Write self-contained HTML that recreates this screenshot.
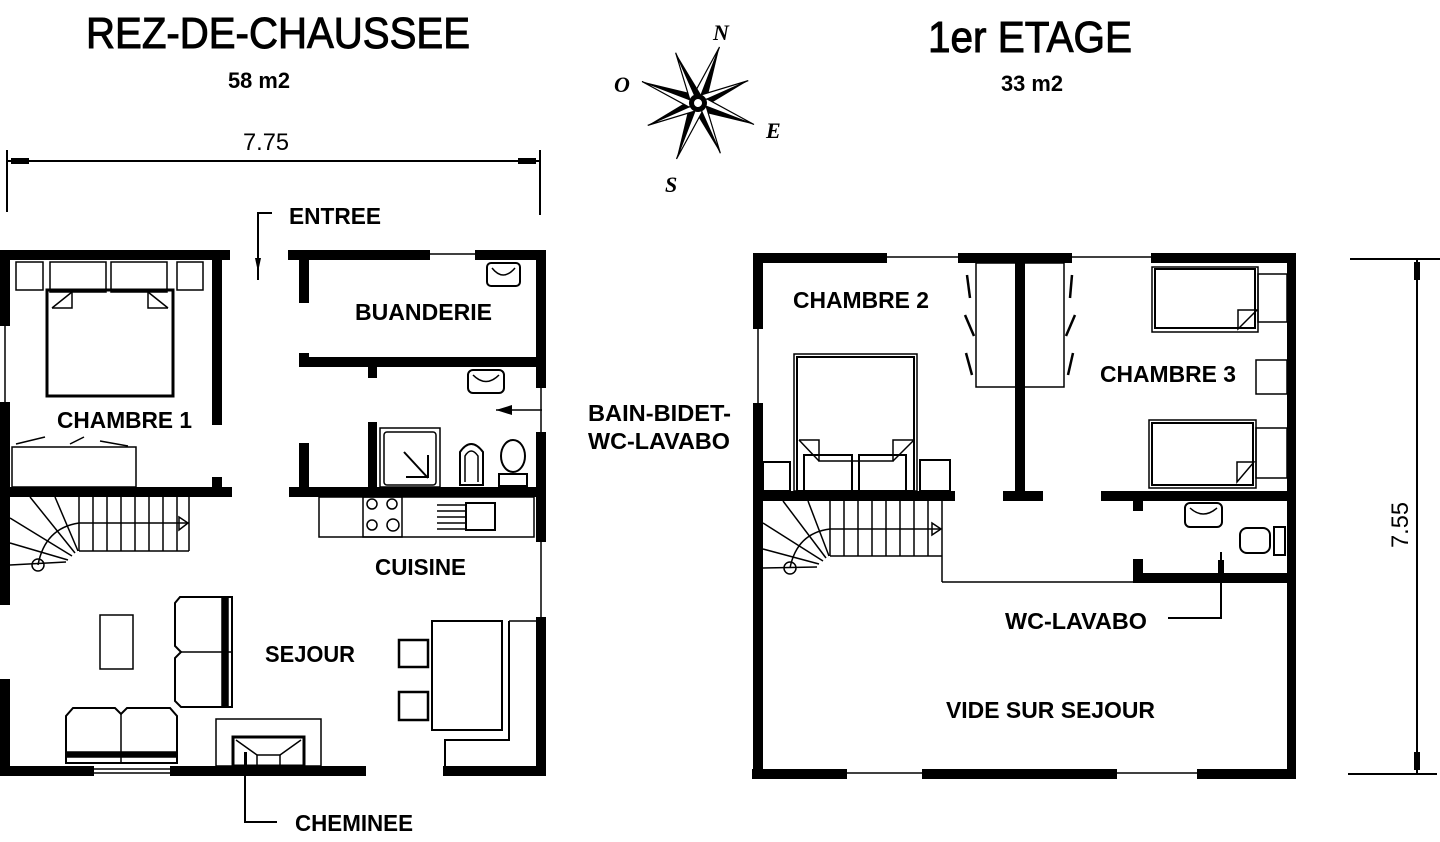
<!DOCTYPE html>
<html><head><meta charset="utf-8"><style>
html,body{margin:0;padding:0;background:#fff;}
svg{display:block;}
.t{font-family:"Liberation Sans Narrow","Liberation Sans",sans-serif;font-weight:bold;fill:#000;}
.n{font-family:"Liberation Sans Narrow","Liberation Sans",sans-serif;fill:#000;}
.h{stroke:#000;stroke-width:1;}
</style></head><body>
<svg width="1440" height="842" viewBox="0 0 1440 842" xmlns="http://www.w3.org/2000/svg">
<rect width="1440" height="842" fill="#fff"/>
<!-- Titles -->
<text class="n h" x="86" y="48" font-size="44" textLength="384" lengthAdjust="spacingAndGlyphs">REZ-DE-CHAUSSEE</text>
<text class="t" x="228" y="88" font-size="22" textLength="62" lengthAdjust="spacingAndGlyphs">58 m2</text>
<text class="n h" x="928" y="52" font-size="44" textLength="204" lengthAdjust="spacingAndGlyphs">1er ETAGE</text>
<text class="t" x="1001" y="91" font-size="22" textLength="62" lengthAdjust="spacingAndGlyphs">33 m2</text>

<!-- dimension 7.75 -->
<g stroke="#000" fill="none">
<line x1="7" y1="150" x2="7" y2="212" stroke-width="2"/>
<line x1="540" y1="150" x2="540" y2="215" stroke-width="2"/>
<line x1="7" y1="161" x2="540" y2="161" stroke-width="2"/>
</g>
<rect x="11" y="158" width="18" height="6" fill="#000"/>
<rect x="518" y="158" width="18" height="6" fill="#000"/>
<text class="n" x="243" y="150" font-size="24" textLength="46" lengthAdjust="spacingAndGlyphs">7.75</text>

<!-- dimension 7.55 -->
<g stroke="#000" fill="none" stroke-width="2">
<line x1="1350" y1="259" x2="1440" y2="259"/>
<line x1="1348" y1="774" x2="1437" y2="774"/>
<line x1="1417" y1="259" x2="1417" y2="774"/>
</g>
<rect x="1414" y="262" width="6" height="18" fill="#000"/>
<rect x="1414" y="752" width="6" height="18" fill="#000"/>
<text class="n" x="0" y="0" font-size="24" transform="translate(1408,548) rotate(-90)" textLength="46" lengthAdjust="spacingAndGlyphs">7.55</text>

<!-- compass -->
<g transform="translate(698,103) rotate(21)">
<g><polygon points="0,-60 7,-7 0,0" fill="#000"/><polygon points="0,-60 -7,-7 0,0" fill="#fff" stroke="#000" stroke-width="1.2"/></g>
<g transform="rotate(45)"><polygon points="0,-55 6,-7 0,0" fill="#000"/><polygon points="0,-55 -6,-7 0,0" fill="#fff" stroke="#000" stroke-width="1.2"/></g>
<g transform="rotate(90)"><polygon points="0,-60 7,-7 0,0" fill="#000"/><polygon points="0,-60 -7,-7 0,0" fill="#fff" stroke="#000" stroke-width="1.2"/></g>
<g transform="rotate(135)"><polygon points="0,-55 6,-7 0,0" fill="#000"/><polygon points="0,-55 -6,-7 0,0" fill="#fff" stroke="#000" stroke-width="1.2"/></g>
<g transform="rotate(180)"><polygon points="0,-60 7,-7 0,0" fill="#000"/><polygon points="0,-60 -7,-7 0,0" fill="#fff" stroke="#000" stroke-width="1.2"/></g>
<g transform="rotate(225)"><polygon points="0,-55 6,-7 0,0" fill="#000"/><polygon points="0,-55 -6,-7 0,0" fill="#fff" stroke="#000" stroke-width="1.2"/></g>
<g transform="rotate(270)"><polygon points="0,-60 7,-7 0,0" fill="#000"/><polygon points="0,-60 -7,-7 0,0" fill="#fff" stroke="#000" stroke-width="1.2"/></g>
<g transform="rotate(315)"><polygon points="0,-55 6,-7 0,0" fill="#000"/><polygon points="0,-55 -6,-7 0,0" fill="#fff" stroke="#000" stroke-width="1.2"/></g>
<circle r="9" fill="#000"/><circle r="4" fill="#fff"/>
</g>
<g font-family="Liberation Serif,serif" font-style="italic" font-weight="bold" font-size="22" fill="#000">
<text x="713" y="40">N</text>
<text x="614" y="92">O</text>
<text x="766" y="138">E</text>
<text x="665" y="192">S</text>
</g>

<!-- ================= GROUND FLOOR ================= -->
<g fill="#000">
<rect x="0" y="250" width="230" height="10"/>
<rect x="288" y="250" width="142" height="10"/>
<rect x="475" y="250" width="71" height="10"/>
<rect x="536" y="250" width="10" height="138"/>
<rect x="536" y="432" width="10" height="110"/>
<rect x="536" y="617" width="10" height="159"/>
<rect x="0" y="250" width="10" height="76"/>
<rect x="0" y="402" width="10" height="203"/>
<rect x="0" y="679" width="10" height="97"/>
<rect x="0" y="766" width="94" height="10"/>
<rect x="170" y="766" width="196" height="10"/>
<rect x="443" y="766" width="103" height="10"/>
<rect x="212" y="260" width="10" height="165"/>
<rect x="212" y="477" width="10" height="12"/>
<rect x="10" y="487" width="222" height="10"/>
<rect x="299" y="260" width="10" height="43"/>
<rect x="299" y="353" width="10" height="14"/>
<rect x="299" y="357" width="237" height="10"/>
<rect x="368" y="367" width="9" height="11"/>
<rect x="368" y="422" width="9" height="65"/>
<rect x="299" y="443" width="10" height="44"/>
<rect x="289" y="487" width="257" height="10"/>
</g>
<g stroke="#000" fill="none" stroke-width="1.5">
<line x1="430" y1="254" x2="475" y2="254"/>
<line x1="5" y1="326" x2="5" y2="402"/>
<line x1="541" y1="388" x2="541" y2="432"/>
<line x1="541" y1="542" x2="541" y2="617"/>
<line x1="94" y1="769" x2="170" y2="769"/>
<line x1="94" y1="773" x2="170" y2="773"/>
<rect x="16" y="262" width="27" height="28"/>
<rect x="177" y="262" width="26" height="28"/>
<rect x="50" y="262" width="56" height="30"/>
<rect x="111" y="262" width="56" height="30"/>
<rect x="47" y="290" width="126" height="106" stroke-width="3"/>
<polyline points="52,308 72,308 72,292"/>
<polyline points="168,308 148,308 148,292"/>
<line x1="52" y1="308" x2="72" y2="292"/>
<line x1="168" y1="308" x2="148" y2="292"/>
<rect x="12" y="447" width="124" height="40"/>
<line x1="16" y1="444" x2="45" y2="437"/>
<line x1="70" y1="444" x2="84" y2="437"/>
<line x1="100" y1="441" x2="128" y2="446"/>
<rect x="487" y="263" width="33" height="23" rx="4" stroke-width="2"/>
<path d="M492,268 Q503,282 515,268"/>
<rect x="468" y="370" width="36" height="23" rx="5" stroke-width="2"/>
<path d="M473,375 Q486,388 499,375"/>
<rect x="380" y="428" width="60" height="59"/>
<rect x="384" y="432" width="52" height="53" rx="3"/>
<line x1="404" y1="452" x2="428" y2="478" stroke-width="2"/>
<polyline points="406,477 428,477 428,455" stroke-width="2"/>
<path d="M460,485 L460,452 Q471,436 483,452 L483,485 Z" stroke-width="2"/>
<path d="M465,482 L465,456 Q471,446 478,456 L478,482"/>
<ellipse cx="513" cy="456" rx="12" ry="16" stroke-width="2"/>
<rect x="499" y="474" width="28" height="12" stroke-width="2"/>
<line x1="496" y1="410" x2="542" y2="410"/>
<line x1="79" y1="523" x2="189" y2="523"/>
<line x1="79" y1="551" x2="189" y2="551"/>
<line x1="79" y1="497" x2="79" y2="551"/>
<line x1="93" y1="497" x2="93" y2="551"/>
<line x1="107" y1="497" x2="107" y2="551"/>
<line x1="121" y1="497" x2="121" y2="551"/>
<line x1="135" y1="497" x2="135" y2="551"/>
<line x1="149" y1="497" x2="149" y2="551"/>
<line x1="163" y1="497" x2="163" y2="551"/>
<line x1="177" y1="497" x2="177" y2="551"/>
<line x1="189" y1="497" x2="189" y2="551"/>
<line x1="78" y1="551" x2="55" y2="497"/>
<line x1="75" y1="553" x2="30" y2="497"/>
<line x1="72" y1="556" x2="10" y2="518"/>
<line x1="68" y1="560" x2="10" y2="543"/>
<line x1="10" y1="565" x2="66" y2="562"/>
<path d="M38,565 Q45,528 79,523"/>
<circle cx="38" cy="565" r="6"/>
<polygon points="179,517 188,523 179,530"/>
<rect x="319" y="497" width="215" height="40"/>
<rect x="363" y="497" width="39" height="40"/>
<circle cx="372" cy="504" r="5"/><circle cx="392" cy="504" r="5"/>
<circle cx="372" cy="525" r="5"/><circle cx="393" cy="525" r="6"/>
<line x1="437" y1="505" x2="465" y2="505"/>
<line x1="437" y1="511" x2="465" y2="511"/>
<line x1="437" y1="517" x2="465" y2="517"/>
<line x1="437" y1="523" x2="465" y2="523"/>
<line x1="437" y1="529" x2="465" y2="529"/>
<rect x="466" y="503" width="29" height="27" stroke-width="2"/>
<rect x="100" y="615" width="33" height="54"/>
<path d="M232,597 L180,597 L175,603 L175,646 L181,652 L175,658 L175,701 L181,707 L232,707 Z" stroke-width="2"/>
<line x1="181" y1="652" x2="232" y2="652"/>
<rect x="222" y="597" width="6" height="110" fill="#000"/>
<path d="M66,763 L66,716 L73,708 L115,708 L121,714 L127,708 L170,708 L177,716 L177,763 Z" stroke-width="2"/>
<line x1="121" y1="714" x2="121" y2="763"/>
<rect x="66" y="752" width="111" height="5" fill="#000"/>
<rect x="216" y="719" width="105" height="47"/>
<rect x="233" y="737" width="71" height="29" stroke-width="3"/>
<rect x="257" y="755" width="23" height="11"/>
<line x1="236" y1="740" x2="257" y2="755"/><line x1="301" y1="740" x2="280" y2="755"/>
<rect x="432" y="621" width="70" height="109" stroke-width="2"/>
<rect x="399" y="640" width="29" height="27" stroke-width="2.5"/>
<rect x="399" y="692" width="29" height="28" stroke-width="2.5"/>
<polyline points="509,621 536,621"/>
<polyline points="509,621 509,740 445,740 445,766" stroke-width="2"/>
<polyline points="245,760 245,822 277,822" stroke-width="2"/>
<polyline points="272,213 258,213 258,280" stroke-width="2"/>
</g>
<polygon points="255,258 261,258 258,272" fill="#000"/>
<polygon points="496,410 512,405 512,415" fill="#000"/>
<rect x="244" y="752" width="3" height="14" fill="#000"/>

<g class="t" font-size="23">
<text x="289" y="224" textLength="92" lengthAdjust="spacingAndGlyphs">ENTREE</text>
<text x="355" y="320" textLength="137" lengthAdjust="spacingAndGlyphs">BUANDERIE</text>
<text x="57" y="428" textLength="135" lengthAdjust="spacingAndGlyphs">CHAMBRE 1</text>
<text x="588" y="421" textLength="143" lengthAdjust="spacingAndGlyphs">BAIN-BIDET-</text>
<text x="588" y="449" textLength="142" lengthAdjust="spacingAndGlyphs">WC-LAVABO</text>
<text x="375" y="575" textLength="91" lengthAdjust="spacingAndGlyphs">CUISINE</text>
<text x="265" y="662" textLength="90" lengthAdjust="spacingAndGlyphs">SEJOUR</text>
<text x="295" y="831" textLength="118" lengthAdjust="spacingAndGlyphs">CHEMINEE</text>
</g>

<!-- ================= FIRST FLOOR ================= -->
<g fill="#000">
<rect x="753" y="253" width="134" height="10"/>
<rect x="958" y="253" width="114" height="10"/>
<rect x="1151" y="253" width="145" height="10"/>
<rect x="1287" y="253" width="9" height="526"/>
<rect x="753" y="253" width="10" height="76"/>
<rect x="753" y="403" width="10" height="376"/>
<rect x="752" y="769" width="95" height="10"/>
<rect x="922" y="769" width="195" height="10"/>
<rect x="1197" y="769" width="99" height="10"/>
<rect x="1015" y="263" width="10" height="228"/>
<rect x="1003" y="491" width="40" height="10"/>
<rect x="763" y="491" width="192" height="10"/>
<rect x="1101" y="491" width="195" height="10"/>
<rect x="1133" y="501" width="10" height="10"/>
<rect x="1133" y="559" width="10" height="24"/>
<rect x="1133" y="573" width="163" height="10"/>
</g>
<g stroke="#000" fill="none" stroke-width="1.5">
<line x1="887" y1="257" x2="958" y2="257"/>
<line x1="1072" y1="257" x2="1151" y2="257"/>
<line x1="758" y1="329" x2="758" y2="403"/>
<line x1="847" y1="773" x2="922" y2="773"/>
<line x1="1117" y1="773" x2="1197" y2="773"/>
<rect x="976" y="263" width="88" height="124"/>
<line x1="967" y1="275" x2="970" y2="298" stroke-width="2.5"/>
<line x1="965" y1="315" x2="974" y2="336" stroke-width="2.5"/>
<line x1="966" y1="353" x2="972" y2="375" stroke-width="2.5"/>
<line x1="1072" y1="275" x2="1070" y2="298" stroke-width="2.5"/>
<line x1="1075" y1="315" x2="1066" y2="336" stroke-width="2.5"/>
<line x1="1073" y1="353" x2="1068" y2="375" stroke-width="2.5"/>
<rect x="1152" y="267" width="106" height="65"/>
<rect x="1155" y="269" width="100" height="59" stroke-width="2"/>
<path d="M1238,329 L1238,310 L1257,310 Z"/>
<rect x="1258" y="274" width="29" height="48"/>
<rect x="1256" y="360" width="31" height="34"/>
<rect x="1149" y="420" width="107" height="68"/>
<rect x="1152" y="423" width="101" height="62" stroke-width="2"/>
<path d="M1237,482 L1237,462 L1254,462 Z"/>
<rect x="1256" y="428" width="31" height="50"/>
<rect x="794" y="354" width="123" height="137"/>
<rect x="797" y="357" width="117" height="134" stroke-width="2"/>
<polyline points="799,440 819,440 819,461 893,461 893,440 914,440"/>
<line x1="799" y1="440" x2="819" y2="461"/><line x1="914" y1="440" x2="893" y2="461"/>
<rect x="804" y="455" width="48" height="36" stroke-width="2"/>
<rect x="859" y="455" width="47" height="36" stroke-width="2"/>
<rect x="763" y="462" width="27" height="29" stroke-width="2"/>
<rect x="920" y="460" width="30" height="31" stroke-width="2"/>
<line x1="942" y1="501" x2="942" y2="582"/>
<line x1="942" y1="582" x2="1133" y2="582"/>
<line x1="830" y1="529" x2="940" y2="529"/>
<line x1="830" y1="556" x2="942" y2="556"/>
<line x1="830" y1="501" x2="830" y2="556"/>
<line x1="844" y1="501" x2="844" y2="556"/>
<line x1="858" y1="501" x2="858" y2="556"/>
<line x1="872" y1="501" x2="872" y2="556"/>
<line x1="886" y1="501" x2="886" y2="556"/>
<line x1="900" y1="501" x2="900" y2="556"/>
<line x1="914" y1="501" x2="914" y2="556"/>
<line x1="928" y1="501" x2="928" y2="556"/>
<line x1="829" y1="556" x2="808" y2="501"/>
<line x1="826" y1="558" x2="783" y2="501"/>
<line x1="823" y1="561" x2="763" y2="523"/>
<line x1="819" y1="564" x2="763" y2="549"/>
<line x1="763" y1="568" x2="817" y2="567"/>
<path d="M790,568 Q797,533 830,529"/>
<circle cx="790" cy="568" r="6"/>
<polygon points="932,523 941,529 932,535"/>
<rect x="1185" y="503" width="37" height="24" rx="5" stroke-width="2"/>
<path d="M1190,508 Q1203,520 1217,508"/>
<rect x="1240" y="528" width="30" height="25" rx="7" stroke-width="2"/>
<rect x="1274" y="527" width="11" height="28" stroke-width="2"/>
<polyline points="1221,552 1221,618 1168,618" stroke-width="2"/>
</g>
<rect x="1218" y="560" width="6" height="13" fill="#000"/>

<g class="t" font-size="23">
<text x="793" y="308" textLength="136" lengthAdjust="spacingAndGlyphs">CHAMBRE 2</text>
<text x="1100" y="382" textLength="136" lengthAdjust="spacingAndGlyphs">CHAMBRE 3</text>
<text x="1005" y="629" textLength="142" lengthAdjust="spacingAndGlyphs">WC-LAVABO</text>
<text x="946" y="718" textLength="209" lengthAdjust="spacingAndGlyphs">VIDE SUR SEJOUR</text>
</g>
</svg>
</body></html>
